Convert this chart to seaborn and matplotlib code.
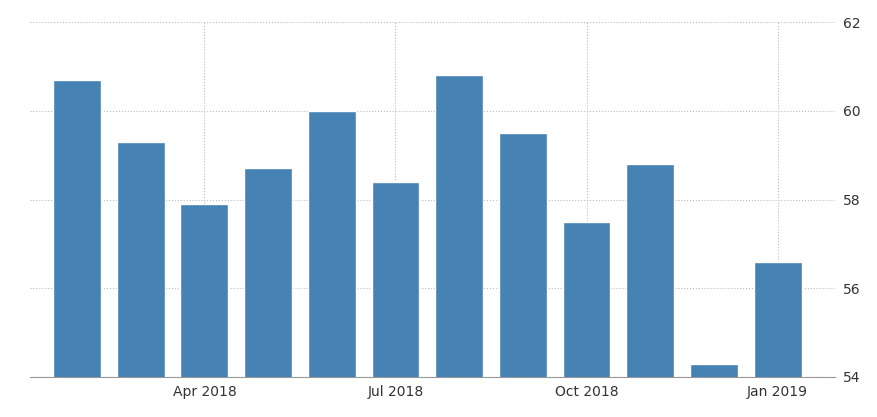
import matplotlib
matplotlib.use("Agg")
import matplotlib.pyplot as plt
import pandas as pd
import seaborn as sns

months = ["Feb 2018", "Mar 2018", "Apr 2018", "May 2018", "Jun 2018", "Jul 2018",
          "Aug 2018", "Sep 2018", "Oct 2018", "Nov 2018", "Dec 2018", "Jan 2019"]
values = [60.7, 59.3, 57.9, 58.7, 60.0, 58.4, 60.8, 59.5, 57.5, 58.8, 54.3, 56.6]
tick_labels = ["Apr 2018", "Jul 2018", "Oct 2018", "Jan 2019"]

df = pd.DataFrame({"month": months, "value": values})

sns.set_style("white")
fig = plt.figure(figsize=(8.78, 4.17), dpi=100)
ax = fig.add_axes([0.034, 0.096, 0.917, 0.851])

sns.barplot(data=df, x="month", y="value", color="#4682b4", width=0.75,
            saturation=1, ax=ax, zorder=3)

ax.set_ylim(54, 62)
ax.set_xlim(-0.74, 11.9)
ax.set_yticks([54, 56, 58, 60, 62])
ax.set_xticks([months.index(t) for t in tick_labels])
ax.set_xticklabels(tick_labels)
ax.yaxis.tick_right()
ax.set_xlabel("")
ax.set_ylabel("")
ax.grid(True, linestyle=":", color="#bbbbbb", linewidth=0.8, zorder=0)
ax.tick_params(axis="both", labelsize=10, colors="#333333", length=0, pad=6)
for side in ["top", "left", "right"]:
    ax.spines[side].set_visible(False)
ax.spines["bottom"].set_color("#999999")

fig.savefig("out.png", dpi=100)
